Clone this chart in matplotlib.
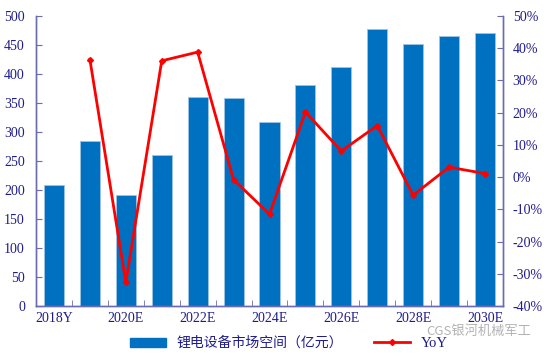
import numpy as np
import matplotlib
matplotlib.use("Agg")
import matplotlib.pyplot as plt
from matplotlib.lines import Line2D
from matplotlib.patches import Patch

# 数据
years = ["2018Y", "2019E", "2020E", "2021E", "2022E", "2023E", "2024E",
         "2025E", "2026E", "2027E", "2028E", "2029E", "2030E"]
market = [208, 284, 191, 260, 361, 358, 317, 381, 412, 478, 451, 465, 470]
yoy = [None, 36.5, -32.7, 36.1, 38.8, -0.8, -11.5, 20.2, 8.1, 16.0, -5.6, 3.1, 1.1]

navy = "#1F1C8C"
bar_c = "#0070C0"
serif = ["Liberation Serif", "DejaVu Serif"]
cjk = ["Noto Sans CJK SC", "DejaVu Sans"]

fig = plt.figure(figsize=(5.5, 3.59), dpi=100)
ax = fig.add_axes([0.0655, 0.1476, 0.849, 0.8078])
x = np.arange(len(years))

ax.bar(x, market, width=0.56, color=bar_c, edgecolor="#9DC3E6", linewidth=0.6, zorder=2)
ax.set_xlim(-0.5, len(years) - 0.5)
ax.set_ylim(0, 500)
ax.set_yticks(range(0, 501, 50))

ax2 = ax.twinx()
xs = [i for i, v in enumerate(yoy) if v is not None]
ys = [v for v in yoy if v is not None]
ax2.plot(xs, ys, color="#FF0000", lw=2, marker="D", ms=3, zorder=3)
ax2.set_ylim(-40, 50)
ax2.set_yticks(range(-40, 51, 10))
ax2.set_yticklabels([f"{t}%" for t in range(-40, 51, 10)])

ax.set_xticks(x[::2])
ax.set_xticklabels(years[::2])
ax.set_xticks(np.arange(-0.5, len(years), 1), minor=True)
ax.tick_params(axis="x", which="major", length=0, pad=4)
ax.tick_params(axis="x", which="minor", direction="in", length=4, color="#6B6BAF")

for a in (ax, ax2):
    a.spines["top"].set_visible(False)
    for s in ("left", "right", "bottom"):
        a.spines[s].set_color("#6B6BAF")
        a.spines[s].set_linewidth(1.0)
ax.tick_params(axis="y", direction="in", length=4, color="#6B6BAF", pad=8)
ax2.tick_params(axis="y", direction="in", length=4, color="#6B6BAF", pad=7)

for lab in ax.get_xticklabels() + ax.get_yticklabels() + ax2.get_yticklabels():
    lab.set_family(serif)
    lab.set_fontsize(10)
    lab.set_color(navy)

handles = [Patch(facecolor=bar_c, edgecolor=bar_c),
           Line2D([], [], color="#FF0000", lw=2, marker="D", ms=3)]
leg = fig.legend(handles, ["锂电设备市场空间（亿元）", "YoY"], loc="lower center",
                 bbox_to_anchor=(0.525, -0.01), ncol=2, frameon=False,
                 handlelength=2.6, handleheight=0.6, columnspacing=2.2,
                 prop={"family": cjk, "size": 10})
for t in leg.get_texts():
    t.set_color(navy)
leg.get_texts()[1].set_family(serif)
leg.get_texts()[1].set_fontsize(10.5)

fig.text(0.775, 0.068, "CGS银河机械军工", family=cjk, fontsize=9.5,
         color="#A0A0A0", alpha=0.8)

fig.savefig("out.png", dpi=100)
